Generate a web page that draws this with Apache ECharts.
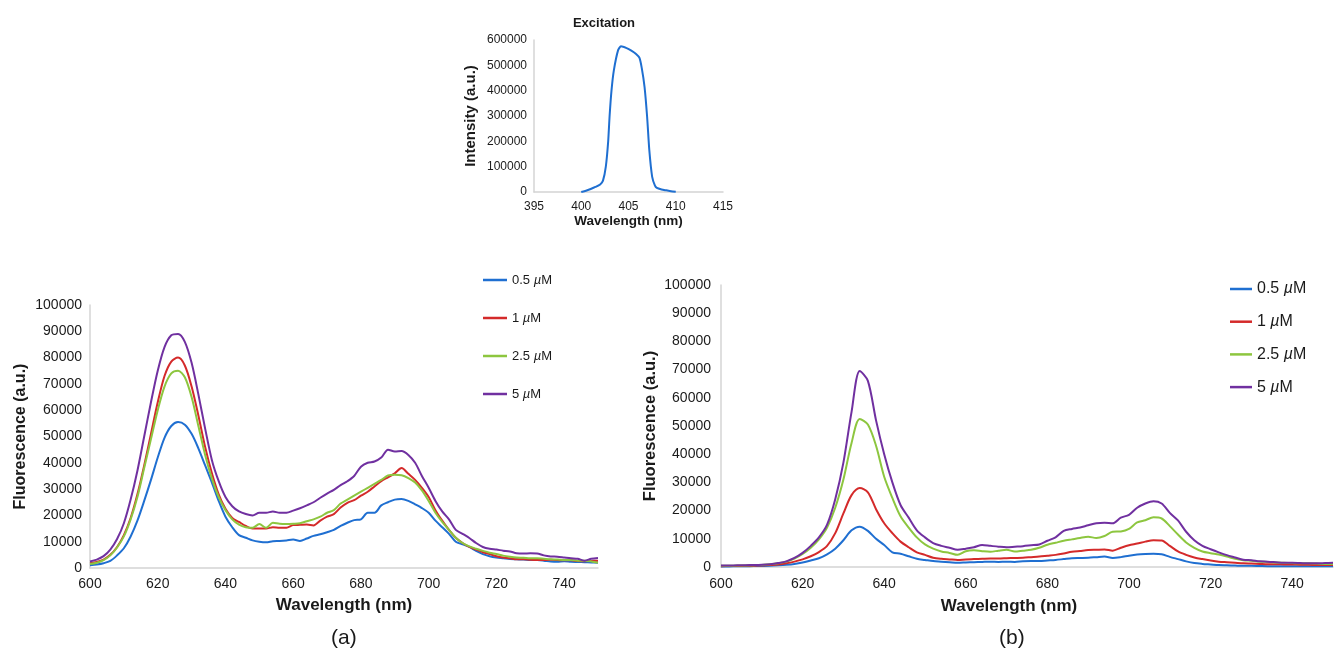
<!DOCTYPE html>
<html>
<head>
<meta charset="utf-8">
<script src="https://cdn.jsdelivr.net/npm/echarts@6/dist/echarts.min.js"></script>
<style>
html,body{margin:0;padding:0;background:#fff;}
#chart{width:1342px;height:655px;}
</style>
</head>
<body>
<div id="chart"></div>
<script>
// ---------- DATA ----------
const seriesNames = ['0.5 µM', '1 µM', '2.5 µM', '5 µM'];

// Excitation spectrum
const exWl  = [400, 400.5, 401, 401.5, 402, 402.3, 402.6, 402.85, 403, 403.2, 403.45, 403.9, 404.2, 404.8, 405.3, 405.8, 406.15, 406.4, 406.7, 406.97, 407.2, 407.5, 407.8, 408, 408.5, 409, 409.5, 410];
const exInt = [0, 5000, 12000, 20000, 30000, 45000, 100000, 200000, 300000, 400000, 480000, 560000, 575000, 568000, 558000, 545000, 530000, 490000, 414000, 297000, 166000, 61000, 25000, 16000, 10000, 6500, 3000, 1000];

// Emission wavelengths (nm)
const wl = [600,602,604,606,608,610,612,614,616,618,620,622,624,626,628,630,632,634,636,638,640,642,644,646,648,650,652,654,656,658,660,662,664,666,668,670,672,674,676,678,680,682,684,686,688,690,692,694,696,698,700,702,704,706,708,710,712,714,716,718,720,722,724,726,728,730,732,734,736,738,740,742,744,746,748,750];

// Panel (a)
const a05 = [1000,1300,1800,2700,4800,7500,12000,18000,25500,33500,42000,49500,54000,55500,54500,51000,45500,39000,32500,25500,19500,15500,12500,11500,10500,10000,9800,10200,10300,10500,10800,10300,11200,12200,12800,13600,14500,16000,17200,18200,18500,21000,21000,23800,25000,26000,26200,25500,24200,22800,21000,18000,15500,13000,10000,9000,8000,6500,5300,4500,4000,3700,3400,3300,3200,3000,3000,2800,2500,2400,2600,2400,2300,2200,2100,2000];
const a1  = [1800,2300,3200,5000,8000,12500,19000,28000,39000,51000,63000,73000,78500,80000,77000,69000,58000,46000,36000,28000,22500,19000,17500,16000,15000,15000,15000,15500,15300,15300,16300,16400,16500,16200,18000,19500,20500,23000,24800,25800,27500,29000,31000,33000,34500,36000,38000,35800,33500,30500,27000,22000,18000,14500,11500,9500,8000,7000,6000,5300,4500,4000,3700,3300,3300,3100,3000,3000,3100,3000,2900,2900,2700,2600,2700,2800];
const a25 = [1500,2000,3000,4800,7800,12000,18500,27000,38000,49000,60000,69000,74000,75000,72500,65000,54000,43000,34000,27000,22000,18500,16500,15500,15300,16700,15300,17200,16800,16700,16800,17000,17800,18500,19500,21000,22000,24500,26000,27500,29000,30500,32000,33500,35200,35500,35300,34200,32500,29500,25500,21000,17500,14500,11500,9500,8200,7300,6500,5800,5300,4700,4300,4000,3900,3700,3700,3500,3300,3200,3000,3000,2800,2800,2500,2000];
const a5  = [2500,3200,4500,7000,11000,17000,26000,37000,50000,63000,75000,84000,88500,89000,86000,78000,66000,53000,41000,33000,27000,23500,21500,20500,20000,21000,21000,21500,21000,21000,21800,22700,23800,25000,26700,28300,29700,31500,33000,35000,38500,40000,40500,42000,45000,44300,44500,43000,40000,35000,30500,25500,21500,18500,14500,13000,11400,9500,8000,7300,7000,6600,6300,5600,5500,5600,5500,4800,4400,4300,4000,3700,3500,2800,3500,3800];

// Panel (b)
const b05 = [200,220,250,280,320,380,450,600,800,1100,1600,2300,3100,4500,6500,9500,13000,14300,12800,10000,7800,5200,4700,3800,2900,2500,2100,1900,1700,1500,1600,1700,1800,1900,1800,1900,1800,2000,2100,2100,2300,2500,2800,3100,3200,3300,3500,3700,3200,3500,4000,4400,4600,4700,4500,3600,2800,2000,1400,1100,900,700,600,500,400,400,350,300,300,300,300,300,300,300,300,300];
const b1  = [300,330,350,400,450,550,700,900,1300,1900,2700,3800,5300,7500,12000,19000,25500,28000,26500,20500,15500,12000,9000,7000,5200,4300,3300,2900,2700,2500,2700,2800,2900,3000,3000,3100,3200,3300,3500,3700,4000,4300,4800,5400,5700,6000,6100,6200,5800,6800,7700,8300,9000,9500,9400,7500,5500,4300,3400,2800,2300,1900,1700,1500,1300,1200,1100,1000,1000,900,900,800,800,700,700,700];
const b25 = [400,450,500,550,650,750,950,1300,1900,3000,4600,6800,9800,14000,21000,31000,44000,52500,50500,43000,32000,24500,18000,14000,10500,8000,6500,5500,5000,4300,5600,5900,5600,5400,5800,6100,5500,5800,6100,6800,7900,8600,9300,9800,10300,10700,10300,11000,12500,12600,13500,15800,16600,17600,17200,14500,11500,8700,6800,5500,4900,4400,3700,2900,2400,2200,1900,1800,1600,1500,1400,1300,1300,1200,1100,1100];
const b5  = [500,550,600,650,700,800,1000,1400,2000,3200,5000,7500,10500,15000,24000,37000,55000,69500,66000,52000,40000,30000,22000,17500,13000,10500,8500,7500,6800,6100,6500,7000,7800,7500,7200,7000,7200,7400,7700,8000,9300,10500,12800,13500,14000,14800,15500,15700,15500,17500,18500,21000,22500,23300,22500,19200,16500,12500,9500,7500,6300,5200,4200,3400,2600,2400,2000,1900,1700,1500,1500,1400,1300,1300,1400,1500];

// ---------- STYLE ----------
const colors = ['#1f6fd1', '#d42a2a', '#8dc63f', '#7030a0'];
const FONT = "'Liberation Sans', Arial, sans-serif";
const axisGray = '#d4d4d4';
const txt = '#1a1a1a';
const plain = v => String(v);

function pairs(xs, ys) { return xs.map((x, i) => [x, ys[i]]); }

const chart = echarts.init(document.getElementById('chart'), null, {renderer: 'canvas'});

function xAxisDef(gridIndex, min, max, interval, fs, margin, nameFs, nameGap, hideMax, namePad) {
  return {
    type: 'value', gridIndex, min, max, interval,
    name: 'Wavelength (nm)', nameLocation: 'middle', nameGap,
    nameTextStyle: {fontFamily: FONT, fontSize: nameFs, fontWeight: 'bold', color: txt, padding: namePad || 0},
    axisLine: {show: true, onZero: false, lineStyle: {color: axisGray, width: 1.5}},
    axisTick: {show: false},
    splitLine: {show: false},
    axisLabel: {fontFamily: FONT, fontSize: fs, color: txt, margin, formatter: plain, showMaxLabel: !hideMax}
  };
}
function yAxisDef(gridIndex, max, interval, fs, margin, name, nameFs, nameGap) {
  return {
    type: 'value', gridIndex, min: 0, max, interval,
    name, nameLocation: 'middle', nameGap,
    nameTextStyle: {fontFamily: FONT, fontSize: nameFs, fontWeight: 'bold', color: txt},
    axisLine: {show: true, lineStyle: {color: axisGray, width: 1.5}},
    axisTick: {show: false},
    splitLine: {show: false},
    axisLabel: {fontFamily: FONT, fontSize: fs, color: txt, margin, formatter: plain}
  };
}

const series = [];
series.push({
  name: 'Excitation', type: 'line', xAxisIndex: 0, yAxisIndex: 0,
  data: pairs(exWl, exInt), symbol: 'none', smooth: 0.2,
  lineStyle: {color: colors[0], width: 2}, itemStyle: {color: colors[0]}
});
const aSets = [a05, a1, a25, a5];
const bSets = [b05, b1, b25, b5];
aSets.forEach((d, i) => series.push({
  name: seriesNames[i], type: 'line', xAxisIndex: 1, yAxisIndex: 1,
  data: pairs(wl, d), symbol: 'none', smooth: 0.3,
  lineStyle: {color: colors[i], width: 2}, itemStyle: {color: colors[i]}
}));
bSets.forEach((d, i) => series.push({
  name: seriesNames[i], type: 'line', xAxisIndex: 2, yAxisIndex: 2,
  data: pairs(wl, d), symbol: 'none', smooth: 0.3,
  lineStyle: {color: colors[i], width: 2}, itemStyle: {color: colors[i]}
}));

const legendFmt = n => n.replace('µ', '{i|µ}');

const option = {
  backgroundColor: '#ffffff',
  animation: false,
  title: {
    text: 'Excitation', left: 599, top: 12, textAlign: 'center',
    textStyle: {fontFamily: FONT, fontSize: 13, fontWeight: 'bold', color: txt}
  },
  legend: [
    {
      data: seriesNames, orient: 'vertical', left: 478, top: 267,
      icon: 'rect', itemWidth: 24, itemHeight: 2.5, itemGap: 22,
      formatter: legendFmt,
      textStyle: {fontFamily: FONT, fontSize: 13, color: txt, lineHeight: 16,
        rich: {i: {fontFamily: FONT, fontSize: 13, fontStyle: 'italic', color: txt, lineHeight: 16}}}
    },
    {
      data: seriesNames, orient: 'vertical', left: 1225, top: 274,
      icon: 'rect', itemWidth: 22, itemHeight: 2.5, itemGap: 12.7,
      formatter: legendFmt,
      textStyle: {fontFamily: FONT, fontSize: 16, color: txt, lineHeight: 20,
        rich: {i: {fontFamily: FONT, fontSize: 16, fontStyle: 'italic', color: txt, lineHeight: 20}}}
    }
  ],
  grid: [
    {left: 534, top: 40, width: 189, height: 152, containLabel: false, outerBoundsMode: 'none'},
    {left: 90, top: 305, width: 508, height: 263, containLabel: false, outerBoundsMode: 'none'},
    {left: 721, top: 285, width: 612, height: 282, containLabel: false, outerBoundsMode: 'none'}
  ],
  xAxis: [
    xAxisDef(0, 395, 415, 5, 12, 9, 13.5, 22, false),
    xAxisDef(1, 600, 750, 20, 14, 9, 17, 29, true),
    xAxisDef(2, 600, 750, 20, 14, 10, 17, 31, true, [0, 36, 0, 0])
  ],
  yAxis: [
    yAxisDef(0, 600000, 100000, 12, 7, 'Intensity (a.u.)', 15, 56),
    yAxisDef(1, 100000, 10000, 14, 8, 'Fluorescence (a.u.)', 16, 61),
    yAxisDef(2, 100000, 10000, 14, 10, 'Fluorescence (a.u.)', 16.5, 62)
  ],
  graphic: [
    {type: 'text', left: 331, top: 628, style: {text: '(a)', fontFamily: FONT, fontSize: 21, fill: txt}},
    {type: 'text', left: 999, top: 628, style: {text: '(b)', fontFamily: FONT, fontSize: 21, fill: txt}}
  ],
  series
};
chart.setOption(option);
</script>
</body>
</html>
